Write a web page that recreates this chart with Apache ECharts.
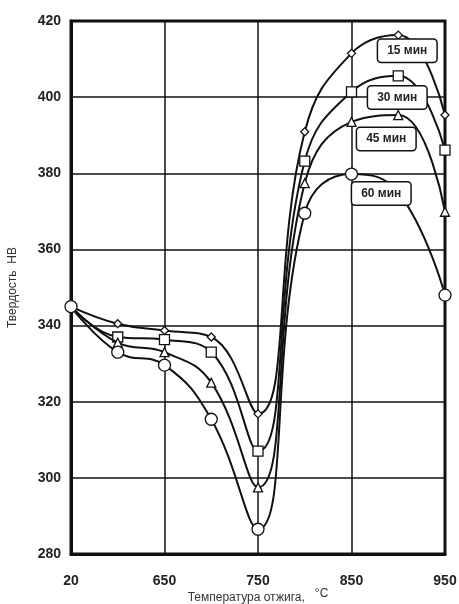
<!DOCTYPE html>
<html><head><meta charset="utf-8">
<script src="https://cdn.jsdelivr.net/npm/echarts@6/dist/echarts.min.js"></script>
<style>html,body{margin:0;padding:0;background:#fff}#c{width:459px;height:604px}</style>
</head><body><div id="c"></div>
<script>
const temps = ['20','600','650','700','750','800','850','900','950'];
const yTicks = [280,300,320,340,360,380,400,420];
const min15 = [345, 340.5, 338.7, 337, 316.8, 390.9, 411.5, 416.3, 395.3];
const min30 = [345, 337, 336.3, 333, 307, 383.2, 401.4, 405.6, 386.1];
const min45 = [345, 335.5, 333, 325, 297.5, 377.4, 393.5, 395.3, 369.9];
const min60 = [345, 333, 329.6, 315.4, 286.5, 369.5, 379.8, 375, 348];
const seriesNames = ['15 мин','30 мин','45 мин','60 мин'];
const labelAnchors = [['900',412.2],['900',399.9],['900',389],['900',374.7]];

const chart = echarts.init(document.getElementById('c'), null, {renderer:'canvas'});
const symbols = ['diamond','rect','triangle','circle'];
const sizes = [8,10,9,12];
const offsets = [[9,0],[-1,0],[-12,0],[-17,0]];
const all = [min15,min30,min45,min60];
const series = all.map((arr,i)=>({
  name: seriesNames[i],
  type:'line',
  smooth:0.45,
  data: arr.map((v,j)=> (j===0 && i<3) ? {value:v, symbol:'none'} : v),
  symbol: symbols[i],
  symbolSize: sizes[i],
  showAllSymbol:true,
  z: 3+i,
  lineStyle:{color:'#111',width:2},
  itemStyle:{color:'#fff',borderColor:'#111',borderWidth:1.3},
  markPoint:{
    symbol:'circle', symbolSize:0,
    data:[{coord:labelAnchors[i]}],
    label:{show:true, formatter:seriesNames[i], offset:offsets[i],
      color:'#222', fontFamily:'Liberation Sans, Arial', fontWeight:'bold', fontSize:12,
      backgroundColor:'#fff', borderColor:'#111', borderWidth:1.5, borderRadius:3,
      padding:[5,9,5,9]},
    z: 20
  }
}));
chart.setOption({
  animation:false,
  backgroundColor:'#fff',
  grid:{left:71,right:14,top:21,bottom:50,containLabel:false,outerBoundsMode:'none',show:true,borderColor:'#111',borderWidth:3,backgroundColor:'transparent'},
  xAxis:{
    type:'category', data:temps, boundaryGap:false,
    axisLine:{show:true,lineStyle:{color:'#111',width:3}},
    axisTick:{show:false},
    axisLabel:{interval:1, margin:20, color:'#222', fontSize:14, fontWeight:'bold', fontFamily:'Liberation Sans, Arial'},
    splitLine:{show:true, interval:1, lineStyle:{color:'#111',width:1.5}},
    name:'{a|Температура отжига,}   {b|°C}', nameLocation:'middle', nameGap:34, nameMoveOverlap:false,
    nameTextStyle:{rich:{a:{fontSize:12,color:'#333',fontFamily:'Liberation Sans, Arial'},b:{fontSize:12,color:'#333',fontFamily:'Liberation Sans, Arial',padding:[0,0,8,0]}}}
  },
  yAxis:{
    type:'value', min:yTicks[0], max:yTicks[yTicks.length-1], interval:20,
    axisLine:{show:true,lineStyle:{color:'#111',width:3}},
    axisTick:{show:false},
    axisLabel:{margin:10, color:'#222', fontSize:14, fontWeight:'bold', fontFamily:'Liberation Sans, Arial'},
    splitLine:{show:true, lineStyle:{color:'#111',width:1.5}},
    name:'Твердость  HB', nameLocation:'middle', nameGap:52, nameMoveOverlap:false,
    nameTextStyle:{fontSize:12,color:'#333',fontFamily:'Liberation Sans, Arial'}
  },
  series: series
});
</script></body></html>
